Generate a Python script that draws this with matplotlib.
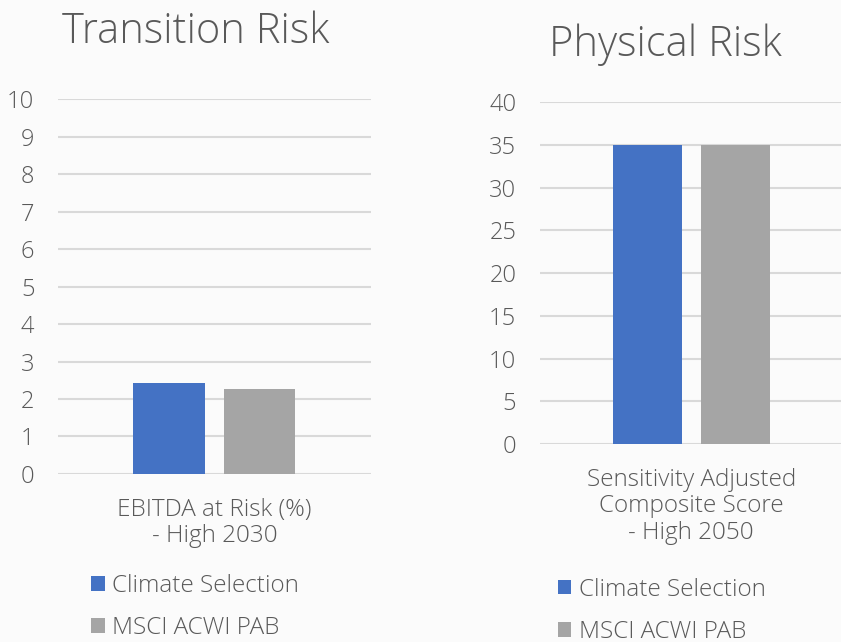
import matplotlib.pyplot as plt
import numpy as np

series = ["Climate Selection", "MSCI ACWI PAB"]
colors = ["#4472C4", "#A5A5A5"]

transition_label = "EBITDA at Risk (%)\n- High 2030"
transition_values = [2.43, 2.27]
transition_ticks = list(range(0, 11, 1))

physical_label = "Sensitivity Adjusted\nComposite Score\n- High 2050"
physical_values = [35.0, 35.0]
physical_ticks = list(range(0, 45, 5))

plt.rcParams['font.family'] = ['Open Sans', 'DejaVu Sans']
plt.rcParams['font.weight'] = 300
txt = "#595959"
grid = "#D9D9D9"

fig = plt.figure(figsize=(8.41, 6.42), dpi=100)
fig.patch.set_facecolor("#FBFBFB")


def panel(rect, title, title_xy, label, values, ticks, legend_xy):
    ax = fig.add_axes(rect)
    ax.set_facecolor("none")
    offsets = [-0.145, 0.145]
    bars = []
    for i, v in enumerate(values):
        b = ax.bar(offsets[i], v, width=0.228, color=colors[i], label=series[i], zorder=3)
        bars.append(b)
    ax.set_xlim(-0.5, 0.5)
    ax.set_ylim(ticks[0], ticks[-1])
    ax.set_yticks(ticks)
    ax.set_xticks([0])
    ax.set_xticklabels([label], fontsize=17.5, color=txt, linespacing=1.15)
    ax.tick_params(axis='x', length=0, pad=17)
    ax.tick_params(axis='y', length=0, pad=17, labelsize=17, labelcolor=txt)
    ax.yaxis.grid(True, color=grid, linewidth=1.5, zorder=0)
    for s in ax.spines.values():
        s.set_visible(False)
    ax.set_axisbelow(True)
    fig.text(title_xy[0], title_xy[1], title, fontsize=30, color=txt, ha='left', va='center')
    ax.legend(handles=bars, loc='upper left', bbox_to_anchor=legend_xy,
              bbox_transform=fig.transFigure, frameon=False, fontsize=17.5,
              labelcolor=txt, handlelength=0.55, handleheight=0.55,
              handletextpad=0.3, labelspacing=0.75, borderpad=0)
    return ax


panel([0.069, 0.2617, 0.372, 0.584], "Transition Risk", (0.074, 0.950),
      transition_label, transition_values, transition_ticks, (0.094, 0.125))
panel([0.642, 0.3084, 0.360, 0.5327], "Physical Risk", (0.653, 0.931),
      physical_label, physical_values, physical_ticks, (0.649, 0.119))

fig.savefig("out.png", dpi=100, facecolor=fig.get_facecolor())
